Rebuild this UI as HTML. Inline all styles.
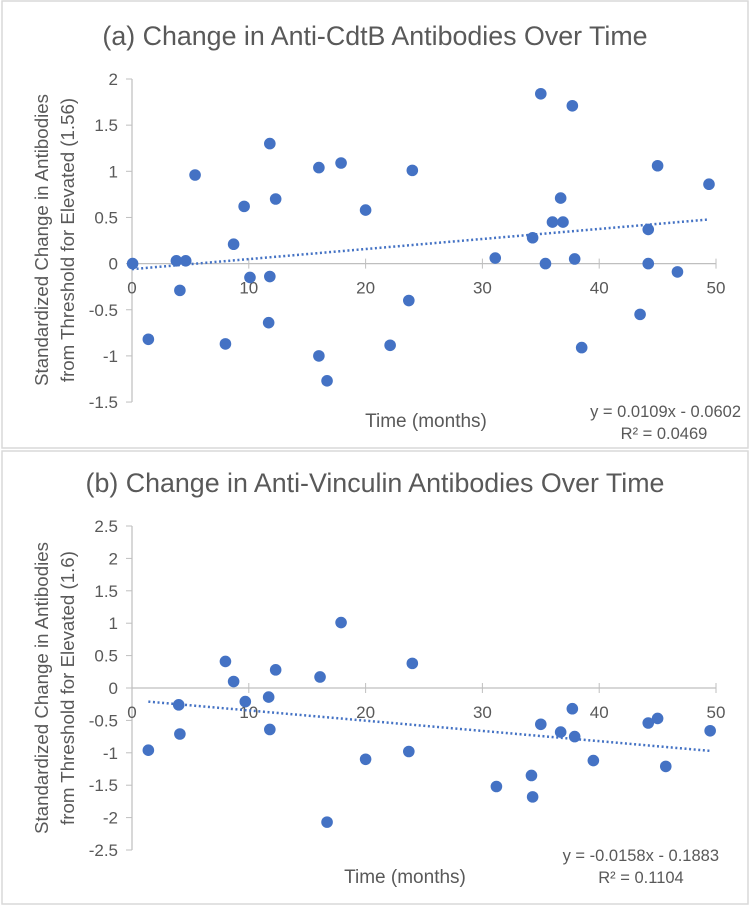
<!DOCTYPE html>
<html><head><meta charset="utf-8">
<style>
html,body{margin:0;padding:0;background:#fff;}
svg{display:block;font-family:"Liberation Sans",sans-serif;}
</style></head>
<body>
<svg id="chart" width="751" height="907" viewBox="0 0 751 907" xmlns="http://www.w3.org/2000/svg">
<rect x="2" y="1" width="746" height="447" fill="#fff" stroke="#d9d9d9" stroke-width="1.5"/>
<rect x="2" y="451" width="746" height="453" fill="#fff" stroke="#d9d9d9" stroke-width="1.5"/>
<g id="pa"></g>
<g id="pb"></g>
</svg>
<script>
// Panel (a) data
const aMonths = [0.05,3.8,4.6,4.1,5.4,8.7,9.6,10.1,11.8,11.8,12.3,11.7,16.0,17.9,20.0,24.0,23.7,1.4,8.0,16.0,16.7,22.1,38.5,43.5,46.7,35.0,37.7,45.0,49.4,36.7,36.0,36.9,34.3,44.2,31.1,35.4,37.9,44.2];
const aValues = [0,0.03,0.03,-0.29,0.96,0.21,0.62,-0.15,-0.14,1.30,0.70,-0.64,1.04,1.09,0.58,1.01,-0.40,-0.82,-0.87,-1.0,-1.27,-0.885,-0.91,-0.55,-0.09,1.84,1.71,1.06,0.86,0.71,0.45,0.45,0.28,0.37,0.06,0,0.05,0];
const aYTicks = [2,1.5,1,0.5,0,-0.5,-1,-1.5];
const aSlope = 0.0109, aIntercept = -0.0602;
// Panel (b) data
const bMonths = [1.4,4.0,4.1,8.0,8.7,9.7,11.7,11.8,12.3,16.1,17.9,16.7,20.0,24.0,23.7,31.2,34.2,34.3,35.0,36.7,37.7,37.9,39.5,44.2,45.0,45.7,49.5];
const bValues = [-0.96,-0.26,-0.71,0.41,0.10,-0.21,-0.14,-0.64,0.28,0.17,1.01,-2.07,-1.10,0.38,-0.98,-1.52,-1.35,-1.68,-0.56,-0.68,-0.32,-0.75,-1.12,-0.54,-0.47,-1.21,-0.66];
const bYTicks = [2.5,2,1.5,1,0.5,0,-0.5,-1,-1.5,-2,-2.5];
const bSlope = -0.0158, bIntercept = -0.1883;
const xTicks = [0,10,20,30,40,50];

const NS="http://www.w3.org/2000/svg";
function mk(parent,tag,attrs,text){const e=document.createElementNS(NS,tag);for(const k in attrs)e.setAttribute(k,attrs[k]);if(text!==undefined)e.textContent=text;parent.appendChild(e);return e;}

function panel(g,o){
  const xS=v=>132+v*(716-132)/50;
  const yS=v=>o.y0-v*o.ppu;
  const axC="#bfbfbf", tc="#595959";
  let t=mk(g,'text',{x:375,y:o.titleY,'text-anchor':'middle','font-size':26.8,fill:tc},o.title);
  
  
  const yMax=o.yTicks[0], yMin=o.yTicks[o.yTicks.length-1];
  let l=mk(g,'line',{x1:132,x2:132,y1:yS(yMax),y2:yS(yMin),stroke:axC,'stroke-width':1.2});
  
  
  o.yTicks.forEach(v=>{
    let tk=mk(g,'line',{x1:126,x2:132,y1:yS(v),y2:yS(v),stroke:axC,'stroke-width':1});
    
    
    let lb=mk(g,'text',{x:118,y:yS(v)+6,'text-anchor':'end','font-size':17,fill:tc},String(v));
    
    
  });
  let xa=mk(g,'line',{x1:132,x2:716,y1:o.y0,y2:o.y0,stroke:axC,'stroke-width':1.2});
  
  
  xTicks.forEach(v=>{
    let tk=mk(g,'line',{x1:xS(v),x2:xS(v),y1:o.y0-5,y2:o.y0+5,stroke:axC,'stroke-width':1});
    
    
    let lb=mk(g,'text',{x:xS(v),y:o.y0+30,'text-anchor':'middle','font-size':17,fill:tc},String(v));
    
    
  });
  let yt=mk(g,'text',{transform:`translate(48,${o.yTitleY}) rotate(-90)`,'text-anchor':'middle','font-size':18.7,fill:tc});
  
  
  mk(yt,'tspan',{x:0,y:0},'Standardized Change in Antibodies');
  mk(yt,'tspan',{x:0,y:26},o.yTitle2);
  let xt=mk(g,'text',{x:o.xTitleX,y:o.xTitleY,'text-anchor':'middle','font-size':19,fill:tc},'Time (months)');
  
  
  const xa0=o.trendFrom, xa1=o.trendTo;
  let tl=mk(g,'line',{x1:xS(xa0),y1:yS(o.slope*xa0+o.intercept),x2:xS(xa1),y2:yS(o.slope*xa1+o.intercept),stroke:'#4472c4','stroke-width':2.5,'stroke-dasharray':'2 2.6'});
  
  
  o.xs.forEach((x,i)=>{
    let c=mk(g,'circle',{cx:xS(x),cy:yS(o.ys[i]),r:5.8,fill:'#4472c4'});
    
    
  });
  let eq=mk(g,'text',{x:o.eqX,y:o.eqY,'text-anchor':'end','font-size':16.5,fill:tc},o.eq);
  
  
  let r2=mk(g,'text',{x:o.r2X,y:o.eqY+22,'text-anchor':'middle','font-size':16.5,fill:tc},o.r2);
  
  
}

panel(document.getElementById('pa'),{title:'(a) Change in Anti-CdtB Antibodies Over Time',titleY:45,y0:263.6,ppu:92.3,yTicks:aYTicks,
  yTitle2:'from Threshold for Elevated (1.56)',yTitleY:240,xTitleX:426,xTitleY:427,xs:aMonths,ys:aValues,slope:aSlope,intercept:aIntercept,
  trendFrom:0,trendTo:49.4,eq:'y = 0.0109x - 0.0602',r2:'R² = 0.0469',eqX:741,eqY:417,r2X:664});
panel(document.getElementById('pb'),{title:'(b) Change in Anti-Vinculin Antibodies Over Time',titleY:492,y0:688,ppu:64.8,yTicks:bYTicks,
  yTitle2:'from Threshold for Elevated (1.6)',yTitleY:688,xTitleX:405,xTitleY:883,xs:bMonths,ys:bValues,slope:bSlope,intercept:bIntercept,
  trendFrom:1.4,trendTo:49.5,eq:'y = -0.0158x - 0.1883',r2:'R² = 0.1104',eqX:719,eqY:861,r2X:641});
</script>
</body></html>
